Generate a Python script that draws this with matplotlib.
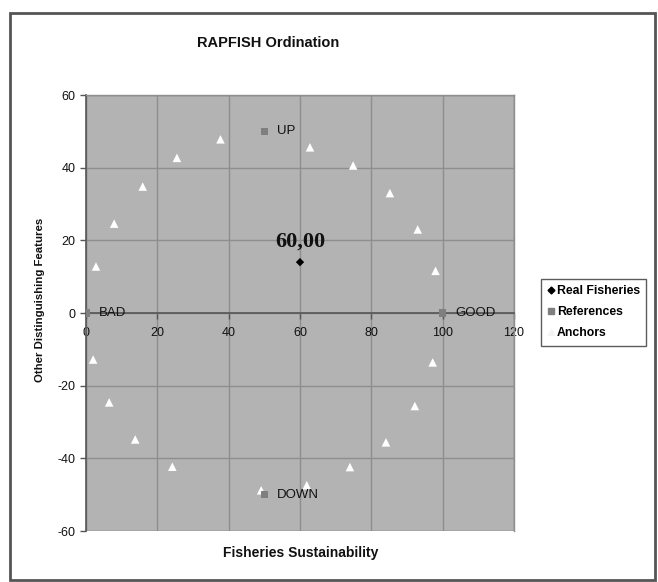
import matplotlib
matplotlib.use("Agg")
import matplotlib.pyplot as plt
from matplotlib.patches import Rectangle
from matplotlib.lines import Line2D

# Data
anchor_x = [2.8, 7.9, 15.9, 25.5, 37.7, 62.8, 74.9, 85.2, 93.0, 98.0,
            2.0, 6.5, 13.8, 24.2, 49.1, 61.9, 74.0, 84.1, 92.2, 97.2]
anchor_y = [12.8, 24.6, 34.8, 42.7, 47.8, 45.6, 40.6, 33.0, 23.0, 11.6,
            -12.8, -24.6, -34.8, -42.3, -48.8, -47.4, -42.4, -35.6, -25.6, -13.6]
ref_x = [0, 100, 50, 50]
ref_y = [0, 0, 50, -50]
ref_labels = ["BAD", "GOOD", "UP", "DOWN"]
real_x = [60]
real_y = [14]
real_label = "60,00"
x_ticks = [0, 20, 40, 60, 80, 100, 120]
y_ticks = [-60, -40, -20, 0, 20, 40, 60]

plt.rcParams['font.family'] = ['Liberation Sans', 'DejaVu Sans']
plt.rcParams['axes.unicode_minus'] = False

fig = plt.figure(figsize=(6.58, 5.82), dpi=100)
fig.patch.set_facecolor('white')
# outer frame
fig.patches.append(Rectangle((10/658, 2/582), (655-10)/658, (569-2)/582,
                             transform=fig.transFigure, fill=False,
                             edgecolor='#555555', linewidth=2))

ax = fig.add_axes([86/658, 51/582, 428/658, 436/582])
ax.set_facecolor('#b3b3b3')
ax.set_xlim(0, 120)
ax.set_ylim(-60, 60)
ax.set_xticks(x_ticks)
ax.set_yticks(y_ticks)
ax.grid(True, color='#8e8e8e', linewidth=1)
ax.set_axisbelow(True)

for s in ['top', 'right']:
    ax.spines[s].set_color('#8e8e8e')
    ax.spines[s].set_linewidth(1)
ax.spines['left'].set_color('#555555')
ax.spines['left'].set_linewidth(1.2)
ax.spines['bottom'].set_position(('data', 0))
ax.spines['bottom'].set_color('#555555')
ax.spines['bottom'].set_linewidth(1.2)
ax.add_patch(Rectangle((0, -60), 120, 120, fill=False, edgecolor='#8e8e8e',
                       linewidth=1, zorder=1.5))

ax.tick_params(axis='both', colors='#555555', labelcolor='#111111',
               labelsize=9, length=4, width=1)
ax.tick_params(axis='x', direction='out', pad=6)

# series
ax.scatter(anchor_x, anchor_y, marker='^', s=38, color='white',
           edgecolors='none', zorder=3, label='Anchors')
ax.scatter(ref_x, ref_y, marker='s', s=30, color='#7f7f7f',
           edgecolors='none', zorder=4, label='References')
ax.scatter(real_x, real_y, marker='D', s=18, color='black',
           edgecolors='none', zorder=5, label='Real Fisheries')

for x, y, t in zip(ref_x, ref_y, ref_labels):
    ax.annotate(t, (x, y), xytext=(9, 0), textcoords='offset points',
                va='center', ha='left', fontsize=9.5, color='#111111', zorder=6)

ax.annotate(real_label, (real_x[0], real_y[0]), xytext=(0, 15),
            textcoords='offset points', ha='center', va='center',
            fontsize=16, fontweight='bold', family='Liberation Serif',
            color='#111111', zorder=6)

fig.text(268/658, 1 - 43/582, 'RAPFISH Ordination', ha='center', va='center',
         fontsize=10.5, fontweight='bold', color='#111111')
fig.text(301/658, 1 - 553/582, 'Fisheries Sustainability', ha='center',
         va='center', fontsize=10, fontweight='bold', color='#111111')
fig.text(40/658, 1 - 300/582, 'Other Distinguishing Features', ha='center',
         va='center', rotation=90, fontsize=8.2, fontweight='bold', color='#111111')

handles = [
    Line2D([], [], marker='D', markersize=3.5, color='black', linestyle='none'),
    Line2D([], [], marker='s', markersize=4.5, color='#7f7f7f', linestyle='none'),
    Line2D([], [], marker='^', markersize=5, color='#f4f4f4', linestyle='none'),
]
leg = fig.legend(handles, ['Real Fisheries', 'References', 'Anchors'],
                 loc='upper left', bbox_to_anchor=(541/658, 1 - 279/582),
                 frameon=True, fancybox=False, edgecolor='#333333',
                 prop={'weight': 'bold', 'size': 8.8}, handlelength=0.6,
                 handletextpad=0.2, labelspacing=0.75, borderpad=0.5,
                 borderaxespad=0)
leg.get_frame().set_linewidth(1)

fig.savefig('out.png', dpi=100, facecolor='white')
